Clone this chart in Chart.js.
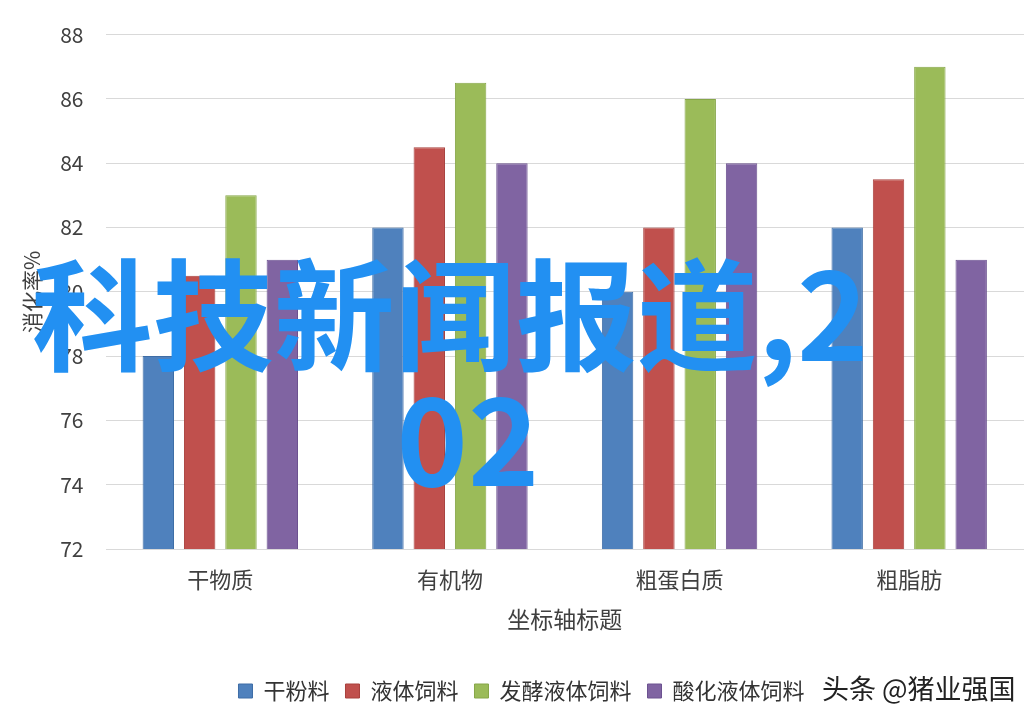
<!DOCTYPE html>
<html>
<head>
<meta charset="utf-8">
<script src="https://cdn.jsdelivr.net/npm/chart.js@4"></script>
<style>
  html, body { margin: 0; padding: 0; background: #fff; }
  #wrap { width: 1036px; height: 720px; }
</style>
</head>
<body>
<div id="wrap"><canvas id="chart" width="1036" height="720"></canvas></div>
<script>
const categories = ["干物质", "有机物", "粗蛋白质", "粗脂肪"];
const seriesNames = ["干粉料", "液体饲料", "发酵液体饲料", "酸化液体饲料"];
const dryPowder = [78, 82, 80, 82];
const liquid = [80.5, 84.5, 82, 83.5];
const fermented = [83, 86.5, 86, 87];
const acidified = [81, 84, 84, 81];
const yTicks = [72, 74, 76, 78, 80, 82, 84, 86, 88];

const fills = ['#4F81BD', '#C0504D', '#9BBB59', '#8064A2'];
const edges = ['#3E6DA6', '#A8403D', '#86A648', '#6C5290'];
const FONT = "'Noto Sans CJK SC', 'Noto Sans', sans-serif";

// watermark texts drawn on top of the chart
const overlay = {
    id: 'overlay',
    afterDraw(chart) {
        const ctx = chart.ctx;
        ctx.save();
        ctx.fillStyle = '#222';
        ctx.font = "27px " + FONT;
        ctx.textAlign = 'left';
        ctx.textBaseline = 'middle';
        ctx.fillText("头条 @猪业强国", 822, 689);

        ctx.fillStyle = '#2290F2';
        ctx.font = "bold 121px " + FONT;
        ctx.textAlign = 'center';
        ctx.fillText("科技新闻报道,2", 450, 315);
        ctx.fillText("02", 468, 440);
        ctx.restore();
    }
};

const sets = [dryPowder, liquid, fermented, acidified].map((d, i) => ({
    label: seriesNames[i],
    data: d,
    backgroundColor: fills[i],
    borderColor: edges[i],
    borderWidth: 1,
    barPercentage: 0.76,
    categoryPercentage: 0.72
}));

new Chart(document.getElementById('chart'), {
    type: 'bar',
    data: { labels: categories, datasets: sets },
    plugins: [overlay],
    options: {
        responsive: false,
        animation: false,
        layout: { padding: { left: 19, right: 12, top: 11, bottom: 8 } },
        plugins: {
            legend: {
                position: 'bottom',
                labels: {
                    color: '#333',
                    font: { family: FONT, size: 22 },
                    boxWidth: 14,
                    boxHeight: 14,
                    padding: 16
                }
            },
            tooltip: { enabled: false }
        },
        scales: {
            x: {
                grid: { display: false },
                border: { display: false },
                ticks: { color: '#404040', font: { family: FONT, size: 22 }, padding: 9 },
                title: {
                    display: true,
                    text: '坐标轴标题',
                    color: '#404040',
                    font: { family: FONT, size: 23 },
                    padding: { top: 4, bottom: 31 }
                }
            },
            y: {
                min: 72,
                max: 88,
                afterBuildTicks: axis => { axis.ticks = yTicks.map(v => ({ value: v })); },
                grid: { color: '#D9D9D9', drawTicks: false },
                border: { display: false },
                ticks: { color: '#404040', font: { family: FONT, size: 21 }, padding: 22 },
                title: {
                    display: true,
                    text: '消化率%',
                    color: '#404040',
                    font: { family: FONT, size: 21 },
                    padding: { top: 0, bottom: -6 }
                }
            }
        }
    }
});
</script>
</body>
</html>
